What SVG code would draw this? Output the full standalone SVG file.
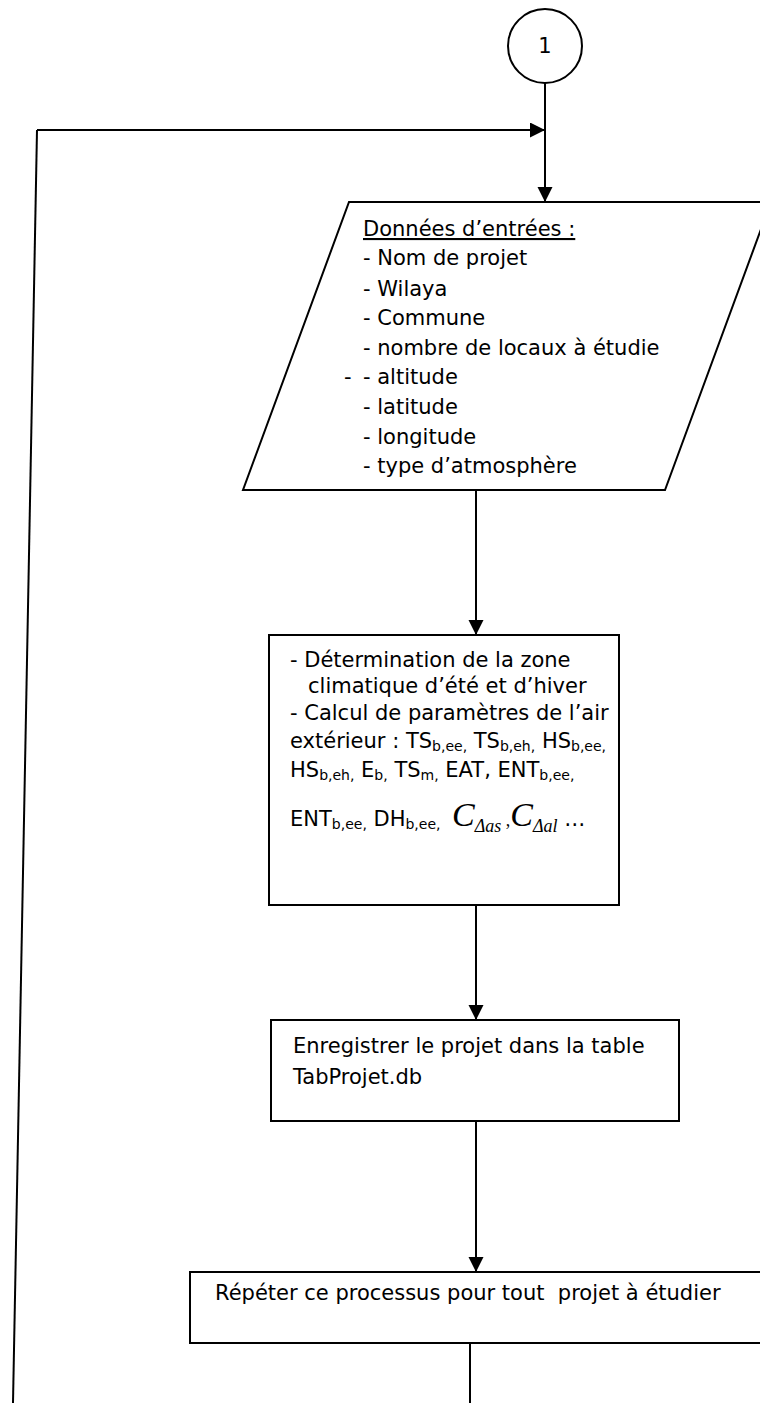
<svg xmlns="http://www.w3.org/2000/svg" width="760" height="1403" viewBox="0 0 760 1403">
  <style>
    .shape { fill: #ffffff; stroke: #000000; stroke-width: 2; }
    .wire { fill: none; stroke: #000000; stroke-width: 2; }
    .txt { font-family: "DejaVu Sans", "Liberation Sans", sans-serif; font-size: 21px; fill: #000000; }
    .sub { font-size: 14px; }
    .math { font-family: "Liberation Serif", serif; font-style: italic; fill: #000000; }
  </style>
  <defs>
    <marker id="arrow" markerUnits="userSpaceOnUse" markerWidth="16" markerHeight="16" refX="15" refY="7.5" orient="auto">
      <path d="M0,0 L15,7.5 L0,15 z" fill="#000000"/>
    </marker>
  </defs>

  <rect width="760" height="1403" fill="#ffffff"/>

  <!-- connectors -->
  <g id="connectors">
    <line class="wire" x1="545" y1="83" x2="545" y2="202" marker-end="url(#arrow)"/>
    <line class="wire" x1="37" y1="130" x2="545" y2="130" marker-end="url(#arrow)"/>
    <line class="wire" x1="37" y1="130" x2="13" y2="1403"/>
    <line class="wire" x1="476" y1="490" x2="476" y2="635" marker-end="url(#arrow)"/>
    <line class="wire" x1="476" y1="905" x2="476" y2="1020" marker-end="url(#arrow)"/>
    <line class="wire" x1="476" y1="1121" x2="476" y2="1272" marker-end="url(#arrow)"/>
    <line class="wire" x1="470" y1="1343" x2="470" y2="1403"/>
  </g>

  <!-- connector 1 -->
  <g id="node-connector-1">
    <circle class="shape" cx="545" cy="46" r="37"/>
    <text class="txt" x="545" y="53" text-anchor="middle">1</text>
  </g>

  <!-- input data -->
  <g id="node-inputs">
    <polygon class="shape" points="349,202 771,202 665,490 243,490"/>
    <text class="txt" x="363" y="236" text-decoration="underline">Données d’entrées :</text>
    <text class="txt" x="363" y="265">- Nom de projet</text>
    <text class="txt" x="363" y="296">- Wilaya</text>
    <text class="txt" x="363" y="325">- Commune</text>
    <text class="txt" x="363" y="355">- nombre de locaux à étudie</text>
    <text class="txt" x="344" y="384">-</text>
    <text class="txt" x="363" y="384">- altitude</text>
    <text class="txt" x="363" y="414">- latitude</text>
    <text class="txt" x="363" y="444">- longitude</text>
    <text class="txt" x="363" y="473">- type d’atmosphère</text>
  </g>

  <!-- climate zone and outdoor air parameters -->
  <g id="node-climate">
    <rect class="shape" x="269" y="635" width="350" height="270"/>
    <text class="txt" x="290" y="667">- Détermination de la zone</text>
    <text class="txt" x="308" y="693">climatique d’été et d’hiver</text>
    <text class="txt" x="290" y="720">- Calcul de paramètres de l’air</text>
    <text class="txt" x="290" y="748">extérieur : TS<tspan class="sub" dy="3">b,ee,</tspan><tspan dy="-3"> TS</tspan><tspan class="sub" dy="3">b,eh,</tspan><tspan dy="-3"> HS</tspan><tspan class="sub" dy="3">b,ee,</tspan></text>
    <text class="txt" x="290" y="777">HS<tspan class="sub" dy="3">b,eh,</tspan><tspan dy="-3"> E</tspan><tspan class="sub" dy="3">b,</tspan><tspan dy="-3"> TS</tspan><tspan class="sub" dy="3">m,</tspan><tspan dy="-3"> EAT, ENT</tspan><tspan class="sub" dy="3">b,ee,</tspan></text>
    <text class="txt" x="290" y="826">ENT<tspan class="sub" dy="3">b,ee,</tspan><tspan dy="-3"> DH</tspan><tspan class="sub" dy="3">b,ee,</tspan></text>
    <text class="math" x="452" y="826" font-size="34">C<tspan font-size="18" dy="6">Δas</tspan><tspan font-size="18" font-style="normal" dy="-6"> ,</tspan><tspan font-size="34">C</tspan><tspan font-size="18" dy="6">Δal</tspan><tspan class="txt" font-style="normal" font-size="16" dy="-6"> …</tspan></text>
  </g>

  <!-- save project -->
  <g id="node-save">
    <rect class="shape" x="271" y="1020" width="408" height="101"/>
    <text class="txt" x="293" y="1053">Enregistrer le projet dans la table</text>
    <text class="txt" x="293" y="1084">TabProjet.db</text>
  </g>

  <!-- repeat -->
  <g id="node-repeat">
    <rect class="shape" x="190" y="1272" width="600" height="71"/>
    <text class="txt" x="215" y="1300" xml:space="preserve">Répéter ce processus pour tout  projet à étudier</text>
  </g>
</svg>
